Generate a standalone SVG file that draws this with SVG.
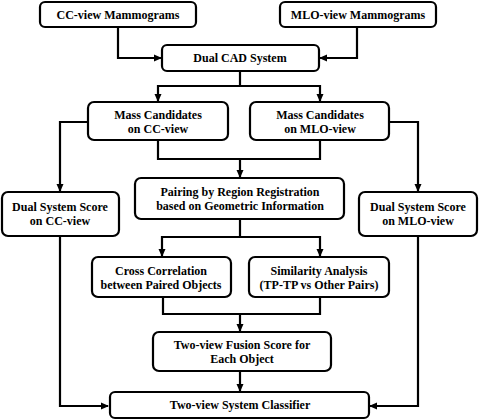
<svg xmlns="http://www.w3.org/2000/svg" width="480" height="420" viewBox="0 0 480 420">
<style>
.box{fill:#fff;stroke:#000;stroke-width:2.2}
.t{font-family:"Liberation Serif","Times New Roman",serif;font-weight:bold;font-size:12px;fill:#000;text-anchor:middle}
.c{fill:none;stroke:#000;stroke-width:2.2;marker-end:url(#a)}
.l{fill:none;stroke:#000;stroke-width:2.2}
</style>
<defs>
<marker id="a" markerWidth="8" markerHeight="8" refX="7" refY="4" orient="auto" markerUnits="userSpaceOnUse">
<path d="M0,0.5 L8,4 L0,7.5 Z" fill="#000"/>
</marker>
</defs>
<rect width="480" height="420" fill="#fff"/>
<g id="connectors">
<path class="c" d="M118,27 V58 H161"/>
<path class="c" d="M357,27 V58 H320"/>
<path class="c" d="M240,71 V86 H158 V101"/>
<path class="c" d="M240,86 H320 V101"/>
<path class="c" d="M88,122 H60 V191"/>
<path class="c" d="M389,122 H418 V191"/>
<path class="l" d="M158,140 V159 H320 V140"/>
<path class="c" d="M240,159 V177"/>
<path class="c" d="M240,219 V237 H162 V256"/>
<path class="c" d="M240,237 H320 V256"/>
<path class="l" d="M163,297 V314 H320 V297"/>
<path class="c" d="M240,314 V331"/>
<path class="c" d="M240,371 V391"/>
<path class="c" d="M60,236 V406 H108"/>
<path class="c" d="M418,236 V406 H370"/>
</g>
<g id="cc-mammo"><rect class="box" x="40" y="2" width="156" height="25" rx="5"/><text class="t" x="118" y="19">CC-view Mammograms</text></g>
<g id="mlo-mammo"><rect class="box" x="280" y="2" width="156" height="25" rx="5"/><text class="t" x="358" y="19">MLO-view Mammograms</text></g>
<g id="dual-cad"><rect class="box" x="162" y="45" width="157" height="26" rx="5"/><text class="t" x="240" y="62">Dual CAD System</text></g>
<g id="mass-cc"><rect class="box" x="88" y="102" width="140" height="38" rx="6"/><text class="t" x="158" y="119">Mass Candidates</text><text class="t" x="158" y="133">on CC-view</text></g>
<g id="mass-mlo"><rect class="box" x="250" y="102" width="139" height="38" rx="6"/><text class="t" x="320" y="119">Mass Candidates</text><text class="t" x="320" y="133">on MLO-view</text></g>
<g id="dual-cc"><rect class="box" x="2" y="192" width="117" height="44" rx="6"/><text class="t" x="60" y="211">Dual System Score</text><text class="t" x="60" y="225">on CC-view</text></g>
<g id="dual-mlo"><rect class="box" x="359" y="192" width="118" height="44" rx="6"/><text class="t" x="418" y="211">Dual System Score</text><text class="t" x="418" y="225">on MLO-view</text></g>
<g id="pairing"><rect class="box" x="135" y="178" width="209" height="41" rx="6"/><text class="t" x="240" y="196">Pairing by Region Registration</text><text class="t" x="240" y="210">based on Geometric Information</text></g>
<g id="cross"><rect class="box" x="92" y="257" width="139" height="40" rx="6"/><text class="t" x="161" y="275">Cross Correlation</text><text class="t" x="161" y="289">between Paired Objects</text></g>
<g id="similarity"><rect class="box" x="249" y="257" width="140" height="40" rx="6"/><text class="t" x="319" y="275">Similarity Analysis</text><text class="t" x="319" y="289">(TP-TP vs Other Pairs)</text></g>
<g id="fusion"><rect class="box" x="153" y="332" width="178" height="39" rx="6"/><text class="t" x="242" y="349">Two-view Fusion Score for</text><text class="t" x="242" y="363">Each Object</text></g>
<g id="classifier"><rect class="box" x="110" y="392" width="259" height="26" rx="5"/><text class="t" x="240" y="409">Two-view System Classifier</text></g>
</svg>
